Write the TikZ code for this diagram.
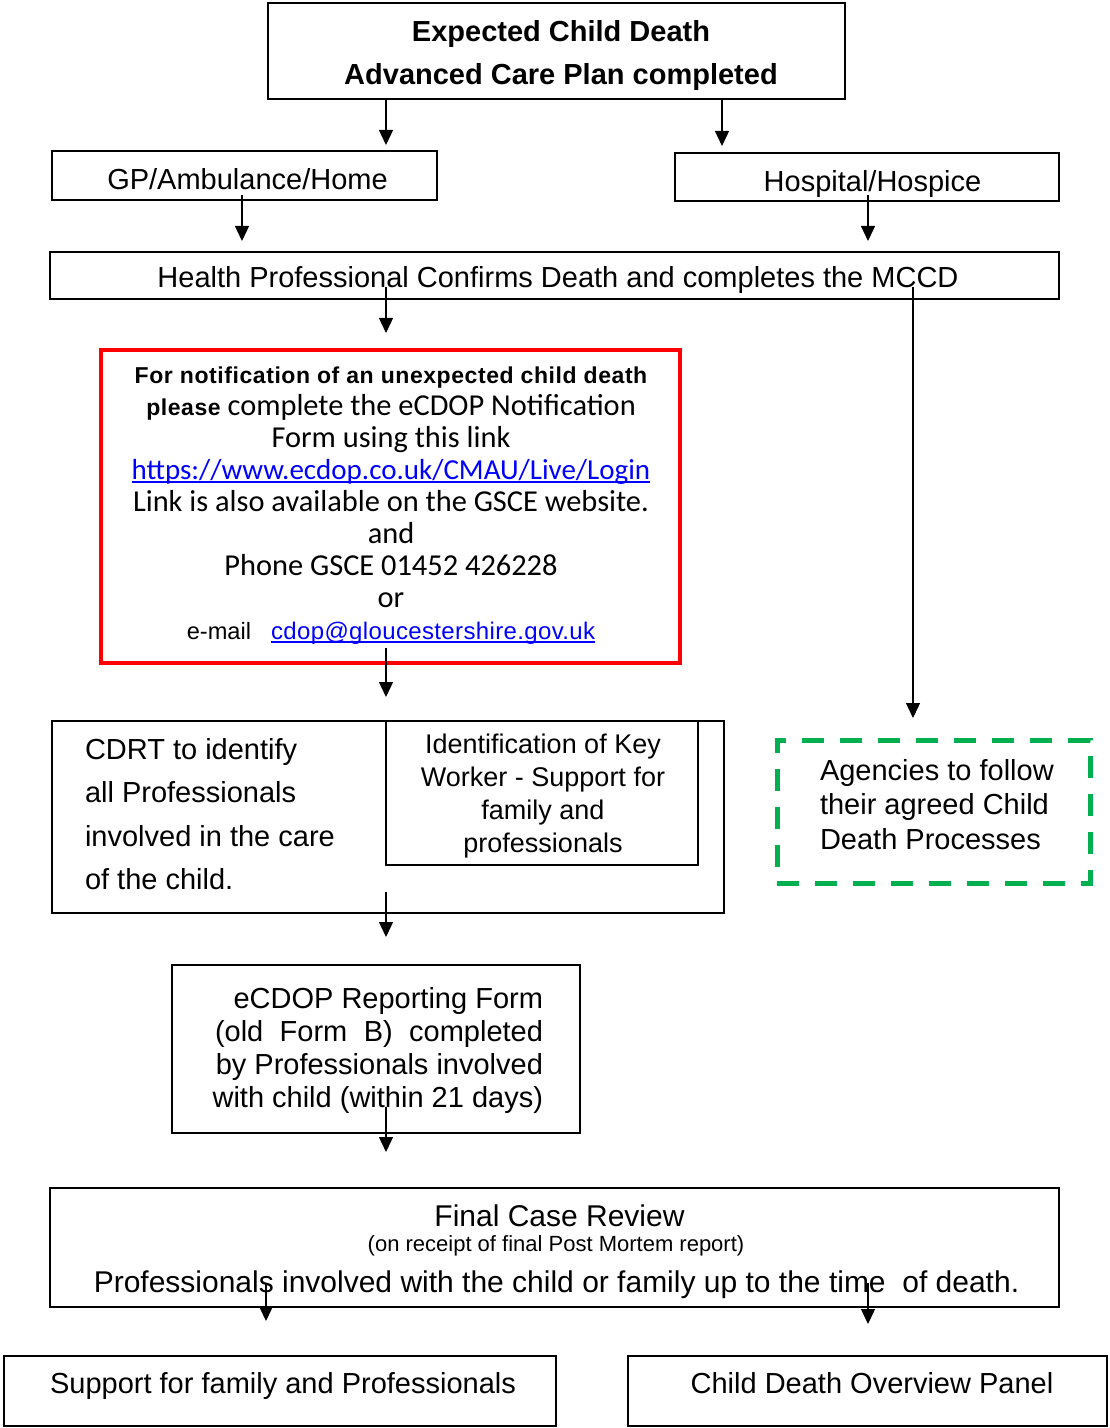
\documentclass[tikz,border=0pt]{standalone}
\usepackage{fontspec}
\setmainfont{Liberation Sans}
\newfontfamily\carl{Carlito}
\usetikzlibrary{arrows.meta}
\definecolor{cdopred}{RGB}{255,0,0}
\definecolor{cdopgreen}{RGB}{0,176,80}
\definecolor{linkblue}{RGB}{0,0,255}
\newcommand\blueul[2]{{\setbox0\hbox{{\textcolor{linkblue}{#2}}}\rlap{{\textcolor{linkblue}{\rule[#1]{\wd0}{0.9pt}}}}\box0}}
\begin{document}
\begin{tikzpicture}[x=0.5pt,y=-0.5pt,
  box/.style={draw, line width=0.8pt, inner sep=0pt, outer sep=0pt},
  txt/.style={inner sep=0pt, outer sep=0pt, font=\fontsize{14.5}{21.5}\selectfont},
  arr/.style={line width=0.65pt, -{Triangle[length=7.5pt,width=7pt]}}]
\useasboundingbox (0,0) rectangle (1109,1428);
\fill[white] (0,0) rectangle (1109,1428);

% boxes
\node[box, minimum width=288.5pt, minimum height=48pt] (top) at (556.5,51) {};
\node[txt, font=\bfseries\fontsize{14.5}{21.5}\selectfont, align=center] (topt) at (561,55.5)
  {Expected Child Death\\Advanced Care Plan completed};

\node[box, minimum width=192.5pt, minimum height=24.5pt] (gp) at (244.5,175.5) {};
\node[txt] (gpt) at (247.5,179) {GP/Ambulance/Home};

\node[box, minimum width=192pt, minimum height=24pt] (hosp) at (867,177) {};
\node[txt] (hospt) at (872.5,184) {Hospital/Hospice};

\node[box, minimum width=504.5pt, minimum height=23.5pt] (health) at (554.5,275.5) {};
\node[txt] (healtht) at (558,280) {Health Professional Confirms Death and completes the MCCD};

\node[draw=cdopred, line width=2.4pt, inner sep=0pt, outer sep=0pt,
      minimum width=289.5pt, minimum height=156.5pt] (red) at (390.5,506.5) {};
\node[txt, align=center, font=\carl\fontsize{15.2}{16}\selectfont] (redt) at (391,505.5)
  {{\rmfamily\bfseries\fontsize{11.5}{16}\selectfont\addfontfeature{LetterSpace=2.5}For notification of an unexpected child death}\\
   {\rmfamily\bfseries\fontsize{11.5}{16}\selectfont\addfontfeature{LetterSpace=2.5}please} complete the eCDOP Notification\\
   Form using this link\\
   {\fontsize{14.5}{16}\selectfont\blueul{-1.6pt}{https://www.ecdop.co.uk/CMAU/Live/Login}}\\
   Link is also available on the GSCE website.\\
   and\\
   Phone GSCE 01452 426228\\
   or\\
   {\rmfamily\fontsize{11.8}{16}\selectfont e-mail\hspace{10pt}{\addfontfeature{LetterSpace=1.5}\fontsize{12}{16}\selectfont\blueul{-1.6pt}{cdop@gloucestershire.gov.uk}}}};

\node[box, minimum width=336pt, minimum height=96pt] (cdrt) at (388,817) {};
\node[box, minimum width=156pt, minimum height=72pt] (key) at (542,793) {};
\node[txt, anchor=west, align=left, font=\fontsize{14.5}{21.75}\selectfont] (cdrtt) at (85,814)
  {CDRT to identify\\all Professionals\\involved in the care\\of the child.};
\node[txt, align=center, font=\fontsize{13.5}{16.5}\selectfont] (keyt) at (543,796.5)
  {Identification of Key\\Worker - Support for\\family and\\professionals};

\node[draw=cdopgreen, line width=2.5pt, dash pattern=on 11pt off 8pt, inner sep=0pt, outer sep=0pt,
      minimum width=156.5pt, minimum height=71.5pt] (green) at (933.5,811.5) {};
\node[txt, anchor=west, align=left, font=\fontsize{14.5}{17.25}\selectfont] (greent) at (820,804.5)
  {Agencies to follow\\their agreed Child\\Death Processes};

\node[box, minimum width=204pt, minimum height=84pt] (ecdop) at (376,1049) {};
\node[txt, anchor=east, align=right, font=\fontsize{14.5}{16.5}\selectfont] (ecdopt) at (543,1050)
  {eCDOP Reporting Form\\\makebox[164pt][s]{(old Form B) completed}\\by Professionals involved\\with child (within 21 days)};

\node[box, minimum width=504.5pt, minimum height=59.5pt] (final) at (554.5,1247.5) {};
\node[txt, font=\fontsize{15}{18}\selectfont] (finalt1) at (559.5,1216) {Final Case Review};
\node[txt, font=\fontsize{11}{13}\selectfont] (finalt2) at (556,1246) {(on receipt of final Post Mortem report)};
\node[txt, font=\fontsize{15}{18}\selectfont] (finalt3) at (556.5,1285)
  {Professionals involved with the child or family up to the time\ \ of death.};

\node[box, minimum width=276pt, minimum height=35pt] (support) at (280,1391) {};
\node[txt] (supportt) at (283,1386) {Support for family and Professionals};
\node[box, minimum width=239.5pt, minimum height=35pt] (cdop) at (867.5,1391) {};
\node[txt] (cdopt) at (872,1383) {Child Death Overview Panel};

% connectors
\coordinate (s1) at (386,99);
\coordinate (s2) at (722,99);
\coordinate (s3) at (242,195);
\coordinate (s4) at (868,195);
\coordinate (s5) at (386,287);
\coordinate (s6) at (913,287);
\coordinate (s7) at (386,648);
\coordinate (s8) at (386,892);
\coordinate (s9) at (386,1107);
\coordinate (s10) at (266,1283);
\coordinate (s11) at (868,1283);
\draw[arr, shorten >=3pt] (s1) -- (s1 |- gp.north);
\draw[arr, shorten >=3.5pt] (s2) -- (s2 |- hosp.north);
\draw[arr, shorten >=5.5pt] (s3) -- (s3 |- health.north);
\draw[arr, shorten >=5.5pt] (s4) -- (s4 |- health.north);
\draw[arr, shorten >=8.5pt] (s5) -- (s5 |- red.north);
\draw[arr, shorten >=11pt] (s6) -- (s6 |- green.north);
\draw[arr, shorten >=12pt] (s7) -- (s7 |- cdrt.north);
\draw[arr, shorten >=14pt] (s8) -- (s8 |- ecdop.north);
\draw[arr, shorten >=18pt] (s9) -- (s9 |- final.north);
\draw[arr, shorten >=17.5pt] (s10) -- (s10 |- support.north);
\draw[arr, shorten >=16pt] (s11) -- (s11 |- cdop.north);
\end{tikzpicture}
\end{document}
